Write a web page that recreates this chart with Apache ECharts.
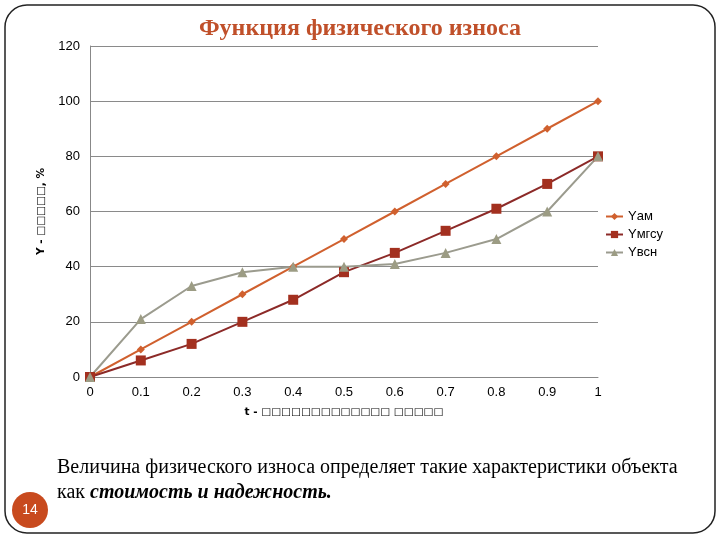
<!DOCTYPE html>
<html><head><meta charset="utf-8">
<script src="https://cdn.jsdelivr.net/npm/echarts@6/dist/echarts.min.js"></script>
<style>html,body{margin:0;padding:0;background:#fff}#c{width:720px;height:540px}</style>
</head><body><div id="c"></div>
<script>
const tValues = [0,0.1,0.2,0.3,0.4,0.5,0.6,0.7,0.8,0.9,1];
const yAm = [0,10,20,30,40,50,60,70,80,90,100];
const yMgsu = [0,6,12,20,28,38,45,53,61,70,80];
const yVsn = [0,21,33,38,40,40,41,45,50,60,80];
const seriesNames = ['Yам','Yмгсу','Yвсн'];
const titleText = 'Функция физического износа';
const yAxisName = 'Y - □□□□□, %';
const xAxisName = 't - □□□□□□□□□□□□□ □□□□□';
const noteLine1 = 'Величина физического износа определяет такие характеристики объекта';
const noteLine2a = 'как ';
const noteLine2b = 'стоимость и надежность.';
const slideNo = '14';

const pair = (ys) => tValues.map((t,i)=>[t,ys[i]]);
const chart = echarts.init(document.getElementById('c'));
chart.setOption({
  animation:false,
  title:{text:titleText,left:'center',top:12,
    textStyle:{fontFamily:'Liberation Serif',fontWeight:'bold',fontSize:24,color:'#C0502A'}},
  legend:{orient:'vertical',left:600,top:205,itemGap:5,itemWidth:17,itemHeight:9,
    textStyle:{fontFamily:'Liberation Sans',fontSize:13,color:'#000'},
    data:seriesNames},
  grid:{left:90,right:122,top:46,bottom:163},
  xAxis:{type:'value',min:0,max:1,interval:0.1,
    name:xAxisName,nameLocation:'middle',nameGap:30,
    nameTextStyle:{fontFamily:'DejaVu Sans',fontWeight:'bold',fontSize:10.5,color:'#000'},
    axisLine:{show:true,lineStyle:{color:'#888',width:1}},
    axisTick:{show:false},splitLine:{show:false},
    axisLabel:{fontFamily:'Liberation Sans',fontSize:13,color:'#000',margin:9,
      formatter:v=>String(Math.round(v*10)/10)}},
  yAxis:{type:'value',min:0,max:120,interval:20,
    name:yAxisName,nameLocation:'middle',nameGap:43,nameRotate:90,nameMoveOverlap:false,
    nameTextStyle:{fontFamily:'DejaVu Sans',fontWeight:'bold',fontSize:10.5,color:'#000'},
    axisLine:{show:true,lineStyle:{color:'#888',width:1}},
    axisTick:{show:false},
    splitLine:{lineStyle:{color:'#8a8a8a',width:1}},
    axisLabel:{fontFamily:'Liberation Sans',fontSize:13,color:'#000',margin:10}},
  series:[
    {name:seriesNames[0],type:'line',data:pair(yAm),symbol:'diamond',symbolSize:8,
      lineStyle:{color:'#D0602E',width:2},itemStyle:{color:'#D0602E'}},
    {name:seriesNames[1],type:'line',data:pair(yMgsu),symbol:'rect',symbolSize:10,
      lineStyle:{color:'#8C2A28',width:2},itemStyle:{color:'#A3301F'}},
    {name:seriesNames[2],type:'line',data:pair(yVsn),symbol:'triangle',symbolSize:10,
      lineStyle:{color:'#9B9B8E',width:2},itemStyle:{color:'#9C9C84'}}
  ],
  graphic:[
    {type:'rect',shape:{x:5,y:5,width:710,height:528,r:22},
      style:{fill:null,stroke:'#222',lineWidth:1.5},z:-1},
    {type:'circle',shape:{cx:30,cy:510,r:18},style:{fill:'#C84A1E'}},
    {type:'text',x:30,y:510,style:{text:slideNo,fill:'#fff',fontFamily:'Liberation Sans',fontSize:14,
      textAlign:'center',textVerticalAlign:'middle'}},
    {type:'text',x:57,y:468,style:{text:noteLine1,fill:'#000',fontFamily:'Liberation Serif',fontSize:20,
      textVerticalAlign:'middle'}},
    {type:'text',x:57,y:493,style:{
      text:'{a|'+noteLine2a+'}{b|'+noteLine2b+'}',
      rich:{a:{fontFamily:'Liberation Serif',fontSize:20,fill:'#000'},
            b:{fontFamily:'Liberation Serif',fontSize:20,fontStyle:'italic',fontWeight:'bold',fill:'#000'}},
      textVerticalAlign:'middle'}}
  ]
});
</script></body></html>
